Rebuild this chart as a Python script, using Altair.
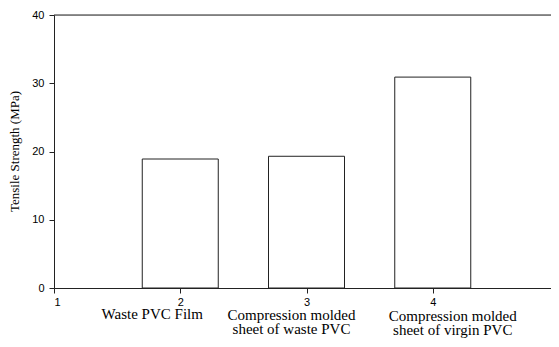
import altair as alt
import pandas as pd

positions = [2, 3, 4]
values = [18.9, 19.3, 30.9]
labels = ["Waste PVC Film", "Compression molded\nsheet of waste PVC", "Compression molded\nsheet of virgin PVC"]
x_ticks = [1, 2, 3, 4, 5]
y_ticks = [0, 10, 20, 30, 40]

df = pd.DataFrame({"pos": positions, "val": values, "label": labels})

W, H = 497, 273
line_color = "#222222"

x_scale = alt.Scale(domain=[1, 5], nice=False, zero=False, padding=0, range=[0, 505])
y_scale = alt.Scale(domain=[0, 40], nice=False, padding=0)

base = alt.Chart(df)

bars = base.mark_bar(size=76, fill="white", stroke=line_color, strokeWidth=1).encode(
    x=alt.X("pos:Q", scale=x_scale,
            axis=alt.Axis(values=x_ticks, title=None, grid=False, format="d",
                          labelFont="Liberation Sans", labelFontSize=11, labelColor="black",
                          domainColor=line_color, tickColor=line_color, tickSize=5,
                          labelPadding=3)),
    y=alt.Y("val:Q", scale=y_scale,
            axis=alt.Axis(values=y_ticks, grid=False, title="Tensile Strength (MPa)",
                          titleFont="Liberation Serif", titleFontSize=13, titleFontWeight="normal",
                          titleColor="black", titleX=-40, titleY=136, titleAngle=-90,
                          titleAlign="center", titleBaseline="middle",
                          labelFont="Liberation Sans", labelFontSize=11, labelColor="black",
                          domainColor=line_color, tickColor=line_color, tickSize=5,
                          labelPadding=5)),
)

top_rule = alt.Chart(pd.DataFrame({"v": [40]})).mark_rule(color=line_color, strokeWidth=1).encode(
    y=alt.Y("v:Q", scale=y_scale),
    x=alt.value(0), x2=alt.value(W),
)

label_dx = [-28, -15, 20]
label_y = [304, 305, 306]
text_layers = []
for i in range(len(labels)):
    t = alt.Chart(df.iloc[[i]]).mark_text(
        font="Liberation Serif", fontSize=15, color="black", align="center",
        baseline="alphabetic", lineBreak="\n", lineHeight=14, dx=label_dx[i]
    ).encode(
        x=alt.X("pos:Q", scale=x_scale),
        y=alt.value(label_y[i]),
        text="label:N",
    )
    text_layers.append(t)

chart = alt.layer(bars, top_rule, *text_layers).properties(
    width=W, height=H,
    autosize=alt.AutoSizeParams(type="none"),
    padding={"left": 46, "top": 7, "right": 0, "bottom": 51},
).configure_view(stroke=None).configure(background="white")

chart.save("out.html", embed_options={"renderer": "svg", "actions": False})
